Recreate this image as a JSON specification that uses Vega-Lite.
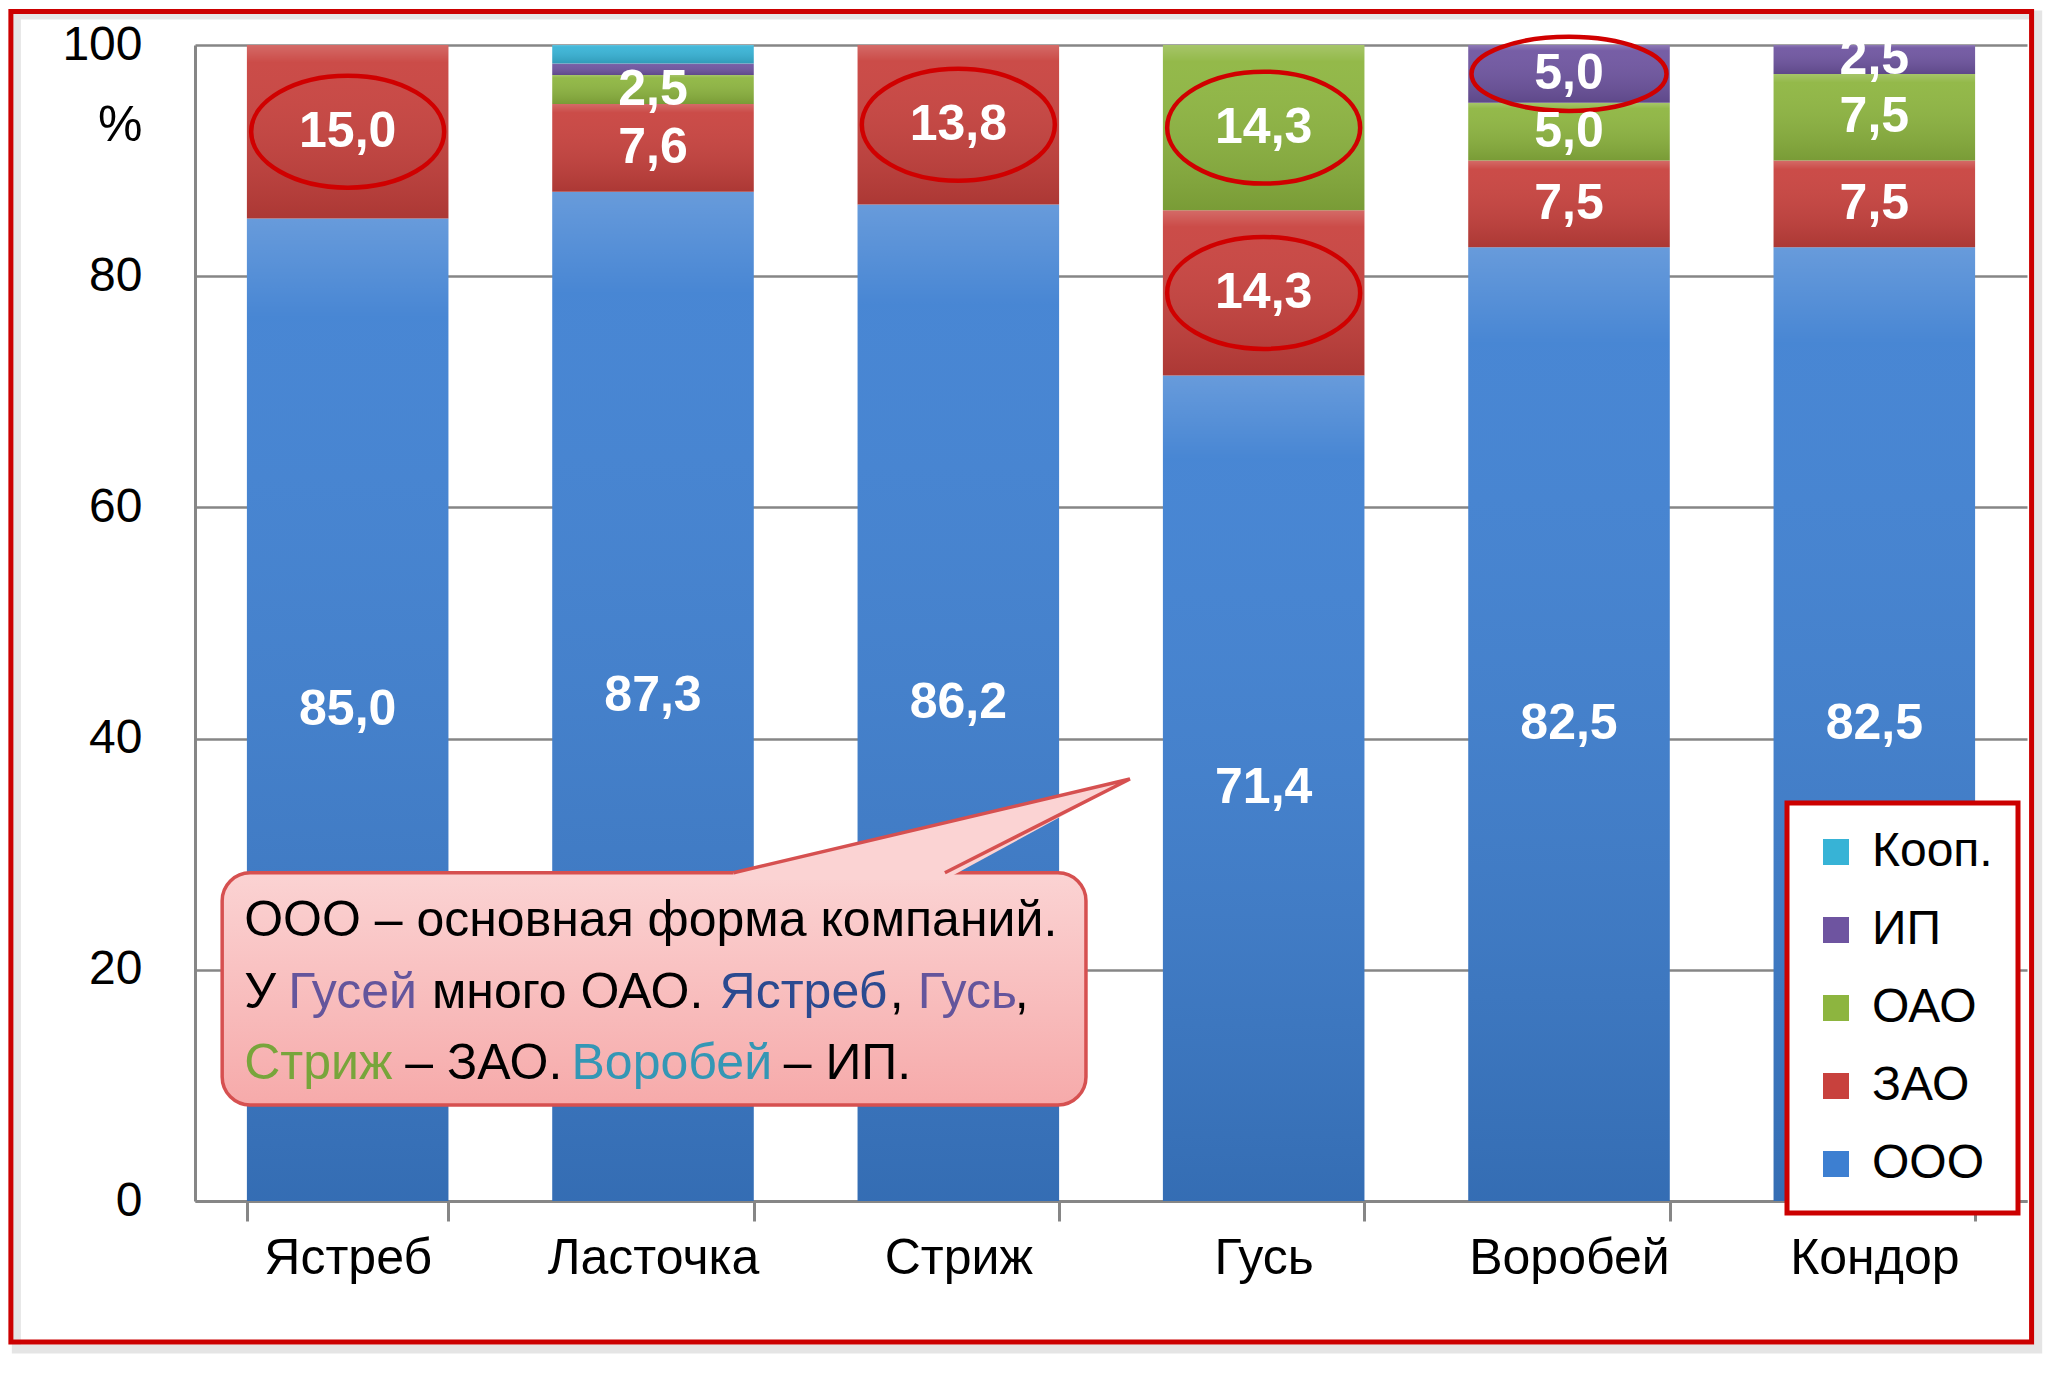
{
  "$schema": "https://vega.github.io/schema/vega-lite/v6.json",
  "width": 1832,
  "height": 1156,
  "autosize": "none",
  "padding": {"left": 195, "top": 45, "right": 40, "bottom": 178},
  "background": "white",
  "config": {
    "view": {"stroke": null},
    "font": "Liberation Sans, Arial, sans-serif",
    "locale": {
      "number": {"decimal": ",", "thousands": " ", "grouping": [3], "currency": ["", " руб."]}
    }
  },
  "datasets": {
    "forms": [
      {"bird": "Ястреб", "form": "ООО", "value": 85.0},
      {"bird": "Ястреб", "form": "ЗАО", "value": 15.0},
      {"bird": "Ласточка", "form": "ООО", "value": 87.3},
      {"bird": "Ласточка", "form": "ЗАО", "value": 7.6},
      {"bird": "Ласточка", "form": "ОАО", "value": 2.5},
      {"bird": "Ласточка", "form": "ИП", "value": 1.0},
      {"bird": "Ласточка", "form": "Кооп.", "value": 1.6},
      {"bird": "Стриж", "form": "ООО", "value": 86.2},
      {"bird": "Стриж", "form": "ЗАО", "value": 13.8},
      {"bird": "Гусь", "form": "ООО", "value": 71.4},
      {"bird": "Гусь", "form": "ЗАО", "value": 14.3},
      {"bird": "Гусь", "form": "ОАО", "value": 14.3},
      {"bird": "Воробей", "form": "ООО", "value": 82.5},
      {"bird": "Воробей", "form": "ЗАО", "value": 7.5},
      {"bird": "Воробей", "form": "ОАО", "value": 5.0},
      {"bird": "Воробей", "form": "ИП", "value": 5.0},
      {"bird": "Кондор", "form": "ООО", "value": 82.5},
      {"bird": "Кондор", "form": "ЗАО", "value": 7.5},
      {"bird": "Кондор", "form": "ОАО", "value": 7.5},
      {"bird": "Кондор", "form": "ИП", "value": 2.5}
    ],
    "pointer": [
      {"px": 1.764, "top": 28.4, "bot": 27.8},
      {"px": 2.456, "top": 32.72, "bot": 27.8},
      {"px": 3.062, "top": 36.5, "bot": 36.5}
    ],
    "edge": [
      {"k": 1, "px": 1.764, "py": 28.4},
      {"k": 2, "px": 3.062, "py": 36.5},
      {"k": 3, "px": 2.456, "py": 28.4}
    ],
    "note": [
      {"px": 0.161, "py": 24.2, "t": "ООО – основная форма компаний.", "who": "текст"},
      {"px": 0.161, "py": 18.0, "t": "У", "who": "текст"},
      {"px": 0.305, "py": 18.0, "t": "Гусей", "who": "Гусь"},
      {"px": 0.776, "py": 18.0, "t": "много ОАО.", "who": "текст"},
      {"px": 1.718, "py": 18.0, "t": "Ястреб", "who": "Ястреб"},
      {"px": 2.275, "py": 18.0, "t": ",", "who": "текст"},
      {"px": 2.367, "py": 18.0, "t": "Гусь", "who": "Гусь"},
      {"px": 2.685, "py": 18.0, "t": ",", "who": "текст"},
      {"px": 0.161, "py": 11.85, "t": "Стриж", "who": "Стриж"},
      {"px": 0.689, "py": 11.85, "t": "– ЗАО.", "who": "текст"},
      {"px": 1.233, "py": 11.85, "t": "Воробей", "who": "Воробей"},
      {"px": 1.928, "py": 11.85, "t": "– ИП.", "who": "текст"}
    ]
  },
  "layer": [
    {
      "data": {"name": "forms"},
      "transform": [
        {"calculate": "indexof(['ООО','ЗАО','ОАО','ИП','Кооп.'], datum.form)", "as": "ord"},
        {"stack": "value", "groupby": ["bird"], "sort": [{"field": "ord", "order": "ascending"}], "as": ["v0", "v1"]},
        {"calculate": "(datum.v0 + datum.v1) / 2", "as": "mid"}
      ],
      "encoding": {
        "x": {
          "field": "bird",
          "type": "nominal",
          "sort": ["Ястреб", "Ласточка", "Стриж", "Гусь", "Воробей", "Кондор"],
          "scale": {"paddingInner": 0.34, "paddingOuter": 0.17},
          "axis": {
            "title": null,
            "labelAngle": 0,
            "labelFontSize": 50,
            "labelColor": "#000000",
            "labelPadding": 12,
            "labelLimit": 0,
            "domainColor": "#868686",
            "domainWidth": 3,
            "tickColor": "#868686",
            "tickWidth": 3,
            "tickSize": 20,
            "tickBand": "extent",
            "grid": false
          }
        }
      },
      "layer": [
        {
          "mark": {"type": "bar"},
          "encoding": {
            "y": {
              "field": "v0",
              "type": "quantitative",
              "scale": {"domain": [0, 100], "nice": false},
              "axis": {
                "values": [0, 20, 40, 60, 80, 100],
                "title": "%",
                "titleAngle": 0,
                "titleAlign": "right",
                "titleBaseline": "middle",
                "titleX": -53,
                "titleY": 80,
                "titleFontSize": 50,
                "titleFontWeight": "normal",
                "titleColor": "#000000",
                "labelFontSize": 48,
                "labelColor": "#000000",
                "labelPadding": 53,
                "ticks": false,
                "domainColor": "#868686",
                "domainWidth": 3,
                "gridColor": "#868686",
                "gridWidth": 2.5
              }
            },
            "y2": {"field": "v1"},
            "color": {
              "field": "form",
              "type": "nominal",
              "scale": {
                "domain": ["Кооп.", "ИП", "ОАО", "ЗАО", "ООО"],
                "range": ["#37b3d6", "#6e54a0", "#8db53f", "#c8413d", "#3d7fd1"]
              },
              "legend": {
                "title": null,
                "orient": "none",
                "legendX": 1592,
                "legendY": 758,
                "padding": 25,
                "strokeColor": "#cc0000",
                "fillColor": "#ffffff",
                "symbolType": "square",
                "symbolSize": 676,
                "symbolStrokeWidth": 0,
                "symbolOpacity": 1,
                "labelFontSize": 48,
                "labelColor": "#000000",
                "labelOffset": 12,
                "rowPadding": 30,
                "encode": {"legend": {"update": {"strokeWidth": {"value": 5}}}}
              }
            }
          }
        },
        {
          "mark": {
            "type": "bar",
            "fill": {
              "gradient": "linear", "x1": 0, "y1": 0, "x2": 0, "y2": 1,
              "stops": [
                {"offset": 0, "color": "rgba(255,255,255,0.22)"},
                {"offset": 0.1, "color": "rgba(255,255,255,0.06)"},
                {"offset": 1, "color": "rgba(0,0,0,0.14)"}
              ]
            }
          },
          "encoding": {
            "y": {"field": "v0", "type": "quantitative", "scale": {"domain": [0, 100], "nice": false}},
            "y2": {"field": "v1"}
          }
        },
        {
          "transform": [
            {"filter": "(datum.form == 'ЗАО' && (datum.bird == 'Ястреб' || datum.bird == 'Стриж' || datum.bird == 'Гусь')) || (datum.form == 'ОАО' && datum.bird == 'Гусь')"}
          ],
          "mark": {
            "type": "point",
            "shape": "M -1 0 A 1 0.58 0 1 0 1 0 A 1 0.58 0 1 0 -1 0 Z",
            "size": 37249,
            "filled": false,
            "stroke": "#d00000",
            "strokeWidth": 4.5,
            "opacity": 1
          },
          "encoding": {
            "y": {"field": "mid", "type": "quantitative", "scale": {"domain": [0, 100], "nice": false}}
          }
        },
        {
          "transform": [{"filter": "datum.form == 'ИП' && datum.bird == 'Воробей'"}],
          "mark": {
            "type": "point",
            "shape": "M -1 0 A 1 0.38 0 1 0 1 0 A 1 0.38 0 1 0 -1 0 Z",
            "size": 38025,
            "filled": false,
            "stroke": "#d00000",
            "strokeWidth": 4.5,
            "opacity": 1
          },
          "encoding": {
            "y": {"field": "mid", "type": "quantitative", "scale": {"domain": [0, 100], "nice": false}}
          }
        },
        {
          "transform": [{"filter": "datum.value >= 2"}],
          "mark": {"type": "text", "color": "#ffffff", "fontSize": 50, "fontWeight": "bold", "baseline": "middle"},
          "encoding": {
            "y": {"field": "mid", "type": "quantitative", "scale": {"domain": [0, 100], "nice": false}},
            "text": {"field": "value", "type": "quantitative", "format": ".1f"}
          }
        }
      ]
    },
    {
      "layer": [
        {
          "data": {"values": [{}]},
          "mark": {"type": "rect", "fill": "transparent", "stroke": "#999999", "strokeWidth": 9, "strokeOpacity": 0.25},
          "encoding": {
            "x": {"datum": -0.585, "type": "quantitative", "scale": {"domain": [0, 6], "nice": false, "zero": false}, "axis": null},
            "x2": {"datum": 6.035},
            "y": {"datum": 102.6, "type": "quantitative", "scale": {"domain": [0, 100], "nice": false}},
            "y2": {"datum": -12.8}
          }
        },
        {
          "data": {"values": [{}]},
          "mark": {"type": "rect", "fill": "transparent", "stroke": "#cc0000", "strokeWidth": 5},
          "encoding": {
            "x": {"datum": -0.603, "type": "quantitative", "scale": {"domain": [0, 6], "nice": false, "zero": false}, "axis": null},
            "x2": {"datum": 6.015},
            "y": {"datum": 102.9, "type": "quantitative", "scale": {"domain": [0, 100], "nice": false}},
            "y2": {"datum": -12.2}
          }
        },
        {
          "data": {"values": [{}]},
          "mark": {
            "type": "rect",
            "cornerRadius": 28,
            "stroke": "#d65050",
            "strokeWidth": 3.5,
            "fill": {
              "gradient": "linear", "x1": 0, "y1": 0, "x2": 0, "y2": 1,
              "stops": [{"offset": 0, "color": "#fbd3d3"}, {"offset": 1, "color": "#f6aaaa"}]
            }
          },
          "encoding": {
            "x": {"datum": 0.089, "type": "quantitative", "scale": {"domain": [0, 6], "nice": false, "zero": false}, "axis": null},
            "x2": {"datum": 2.918},
            "y": {"datum": 28.4, "type": "quantitative", "scale": {"domain": [0, 100], "nice": false}},
            "y2": {"datum": 8.3}
          }
        },
        {
          "data": {"name": "pointer"},
          "mark": {"type": "area", "color": "#fbd3d3", "opacity": 1},
          "encoding": {
            "x": {"field": "px", "type": "quantitative", "scale": {"domain": [0, 6], "nice": false, "zero": false}, "axis": null},
            "y": {"field": "top", "type": "quantitative", "scale": {"domain": [0, 100], "nice": false}},
            "y2": {"field": "bot"}
          }
        },
        {
          "data": {"name": "edge"},
          "mark": {"type": "line", "color": "#d65050", "strokeWidth": 3.5},
          "encoding": {
            "x": {"field": "px", "type": "quantitative", "scale": {"domain": [0, 6], "nice": false, "zero": false}, "axis": null},
            "y": {"field": "py", "type": "quantitative", "scale": {"domain": [0, 100], "nice": false}},
            "order": {"field": "k"}
          }
        },
        {
          "data": {"name": "note"},
          "mark": {"type": "text", "align": "left", "baseline": "middle", "fontSize": 50},
          "encoding": {
            "x": {"field": "px", "type": "quantitative", "scale": {"domain": [0, 6], "nice": false, "zero": false}, "axis": null},
            "y": {"field": "py", "type": "quantitative", "scale": {"domain": [0, 100], "nice": false}},
            "text": {"field": "t"},
            "color": {
              "field": "who",
              "type": "nominal",
              "scale": {
                "domain": ["текст", "Гусь", "Ястреб", "Стриж", "Воробей"],
                "range": ["#000000", "#64559c", "#2b4a90", "#78a53b", "#3497b5"]
              },
              "legend": null
            }
          }
        }
      ]
    }
  ],
  "resolve": {"scale": {"x": "independent", "color": "independent"}, "axis": {"x": "independent"}}
}
